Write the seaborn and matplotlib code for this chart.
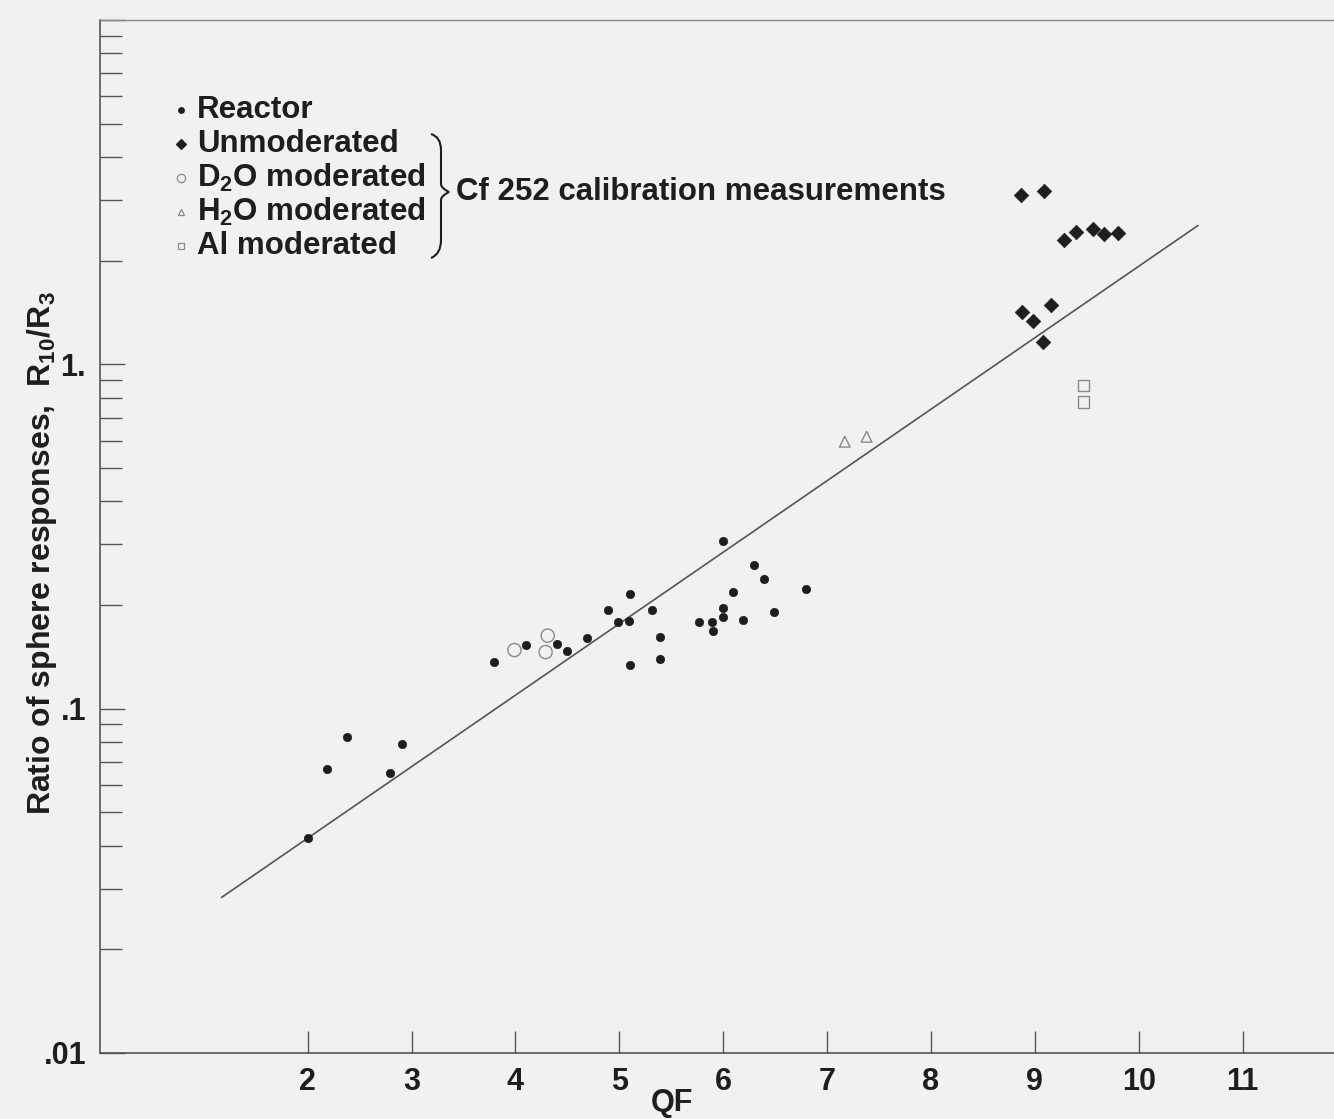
import numpy as np
import pandas as pd
import matplotlib
matplotlib.use("Agg")
import matplotlib.pyplot as plt
import seaborn as sns
from matplotlib.path import Path
from matplotlib.patches import PathPatch
from matplotlib.ticker import FixedLocator, FixedFormatter, LogLocator, NullFormatter

# ---------------- data ----------------
reactor_qf = [2.0, 2.19, 2.38, 2.79, 2.91, 3.79, 4.10, 4.40, 4.50, 4.69, 4.89, 4.99, 5.09, 5.10, 5.10,
              5.31, 5.39, 5.39, 5.77, 5.89, 5.90, 6.00, 6.00, 6.00, 6.09, 6.19, 6.30, 6.39, 6.49, 6.80]
reactor_ratio = [0.042, 0.067, 0.083, 0.065, 0.079, 0.137, 0.153, 0.154, 0.147, 0.160, 0.193, 0.178, 0.180, 0.216, 0.134,
                 0.193, 0.161, 0.139, 0.178, 0.178, 0.168, 0.184, 0.196, 0.307, 0.218, 0.181, 0.261, 0.238, 0.191, 0.222]
unmod_qf = [8.87, 9.09, 9.28, 9.40, 9.56, 9.67, 9.80, 8.88, 8.98, 9.16, 9.08]
unmod_ratio = [3.10, 3.19, 2.30, 2.43, 2.47, 2.39, 2.41, 1.42, 1.34, 1.49, 1.16]
d2o_qf = [3.99, 4.31, 4.29]
d2o_ratio = [0.148, 0.163, 0.146]
h2o_qf = [7.17, 7.38]
h2o_ratio = [0.596, 0.616]
al_qf = [9.47, 9.47]
al_ratio = [0.869, 0.778]
fit_qf = [1.17, 10.57]
fit_ratio = [0.0283, 2.53]

x_ticks = [2, 3, 4, 5, 6, 7, 8, 9, 10, 11]
y_ticks = [0.01, 0.1, 1.0, 10.0]
y_ticklabels = [".01", ".1", "1.", ""]
legend_labels = ["Reactor", "Unmoderated", "D$_2$O moderated", "H$_2$O moderated", "Al moderated"]
group_label = "Cf 252 calibration measurements"
x_label = "QF"
y_label = "Ratio of sphere responses,  R$_{10}$/R$_3$"

# ---------------- style ----------------
sns.set_theme(style="white")
BG = "#f1f1f0"
INK = "#1e1e1e"
GREY = "#8a8a8a"
plt.rcParams["font.family"] = ["Liberation Sans", "DejaVu Sans"]
plt.rcParams["font.weight"] = "bold"
plt.rcParams["mathtext.fontset"] = "custom"
plt.rcParams["mathtext.rm"] = "Liberation Sans:bold"
plt.rcParams["mathtext.it"] = "Liberation Sans:bold"
plt.rcParams["mathtext.bf"] = "Liberation Sans:bold"
plt.rcParams["mathtext.default"] = "rm"

W, H = 1334, 1119
fig = plt.figure(figsize=(W / 100, H / 100), dpi=100, facecolor=BG)
L, R, B, T = 100, 1334, 1053, 20
ax = fig.add_axes([L / W, 1 - B / H, (R - L) / W, (B - T) / H], facecolor=BG)

def pa(px, py):
    return ((px - L) / (R - L), (B - py) / (B - T))

# fit line
sns.lineplot(x=fit_qf, y=fit_ratio, ax=ax, color="#555555", linewidth=1.2, sort=False)

# data series
sns.scatterplot(x=reactor_qf, y=reactor_ratio, ax=ax, marker="o", s=36, color=INK,
                edgecolor=INK, linewidth=0.5, zorder=3)
sns.scatterplot(x=unmod_qf, y=unmod_ratio, ax=ax, marker="D", s=55, color=INK,
                edgecolor=INK, linewidth=0.5, zorder=3)
sns.scatterplot(x=d2o_qf, y=d2o_ratio, ax=ax, marker="o", s=90, facecolor="none",
                edgecolor=GREY, linewidth=1.0, zorder=3)
sns.scatterplot(x=h2o_qf, y=h2o_ratio, ax=ax, marker="^", s=60, facecolor="none",
                edgecolor=GREY, linewidth=1.0, zorder=3)
sns.scatterplot(x=al_qf, y=al_ratio, ax=ax, marker="s", s=70, facecolor="none",
                edgecolor=GREY, linewidth=1.0, zorder=3)

ax.set_yscale("log")
ax.set_xlim(0, 11.88)
ax.set_ylim(0.01, 10)

ax.xaxis.set_major_locator(FixedLocator(x_ticks))
ax.set_xticklabels([str(t) for t in x_ticks])
ax.yaxis.set_major_locator(FixedLocator(y_ticks))
ax.yaxis.set_major_formatter(FixedFormatter(y_ticklabels))
ax.yaxis.set_minor_locator(LogLocator(base=10, subs=range(2, 10)))
ax.yaxis.set_minor_formatter(NullFormatter())

ax.tick_params(axis="x", which="major", direction="in", length=16, width=1.0, color="#555555",
               labelsize=22, labelcolor=INK, pad=10, bottom=True, top=False)
ax.tick_params(axis="y", which="major", direction="in", length=18, width=1.0, color="#555555",
               labelsize=22, labelcolor=INK, pad=10, left=True, right=False)
ax.tick_params(axis="y", which="minor", direction="in", length=16, width=1.0, color="#555555",
               left=True, right=False)
for lab in ax.get_xticklabels() + ax.get_yticklabels():
    lab.set_fontweight("bold")

for s in ["left", "bottom"]:
    ax.spines[s].set_color("#555555")
    ax.spines[s].set_linewidth(1.2)
ax.spines["top"].set_color("#8a8a8a")
ax.spines["top"].set_linewidth(1.0)
ax.spines["right"].set_visible(False)

ax.set_xlabel(x_label, fontsize=22, color=INK, fontweight="bold")
ax.xaxis.set_label_coords((672 - L) / (R - L), -(1103 - B) / (B - T), transform=ax.transAxes)
ax.xaxis.label.set_verticalalignment("center")
ax.set_ylabel(y_label, fontsize=23, color=INK, fontweight="bold")
ax.yaxis.set_label_coords(-(L - 42) / (R - L), (B - 553) / (B - T), transform=ax.transAxes)
ax.yaxis.label.set_verticalalignment("center")

# ---------------- manual legend ----------------
rows_y = [110, 144, 178, 212, 246]
mk = [("o", 4, INK, INK), ("D", 5, INK, INK), ("o", 6, "none", GREY), ("^", 5, "none", GREY), ("s", 5, "none", GREY)]
for (m, ms, fc, ec), lab, yy in zip(mk, legend_labels, rows_y):
    xm, ym = pa(181, yy)
    ax.plot([xm], [ym], transform=ax.transAxes, marker=m, markersize=ms, markerfacecolor=fc,
            markeredgecolor=ec, markeredgewidth=0.9, linestyle="none", clip_on=False)
    xt, yt = pa(197, yy)
    ax.text(xt, yt, lab, transform=ax.transAxes, fontsize=22.5, color=INK, ha="left", va="center",
            fontweight="bold")

# brace
pts = [pa(431, 134), pa(441, 137), pa(441, 150), pa(441, 184), pa(441, 188), pa(449, 192),
       pa(441, 196), pa(441, 200), pa(441, 240), pa(441, 254), pa(431, 258)]
codes = [Path.MOVETO, Path.CURVE3, Path.CURVE3, Path.LINETO, Path.CURVE3, Path.CURVE3,
         Path.CURVE3, Path.CURVE3, Path.LINETO, Path.CURVE3, Path.CURVE3]
brace = PathPatch(Path(pts, codes), transform=ax.transAxes, facecolor="none", edgecolor=INK, linewidth=1.5)
ax.add_patch(brace)
xt, yt = pa(456, 192)
ax.text(xt, yt, group_label, transform=ax.transAxes, fontsize=22.5, color=INK, ha="left", va="center",
        fontweight="bold")

fig.savefig("out.png", dpi=100, facecolor=BG)
